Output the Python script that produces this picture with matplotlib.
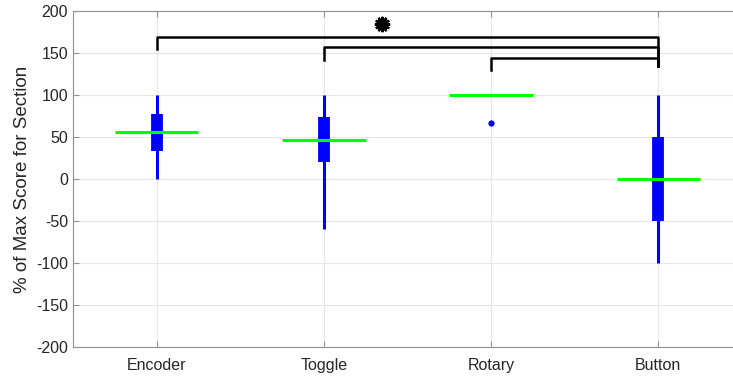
import numpy as np
import matplotlib
matplotlib.use('Agg')
import matplotlib.pyplot as plt

plt.rcParams['font.family'] = ['Liberation Sans', 'DejaVu Sans']
plt.rcParams['axes.unicode_minus'] = False

# Summary stats per control type (percent of max score)
controls = ['Encoder', 'Toggle', 'Rotary', 'Button']
medians = [55.6, 46.4, 100, 0]
q1 = [33.3, 20, 100, -50]
q3 = [77.8, 73.3, 100, 50]
whisk_lo = [0, -60, 100, -100]
whisk_hi = [100, 100, 100, 100]
outlier_x = [3]
outlier_y = [66.7]

# Significance brackets: (left group, right group, bar height, left leg end, right leg end)
brackets = [(1, 4, 169, 155, 135), (2, 4, 157, 142, 135), (3, 4, 144, 130, 135)]
star_pos = (2.35, 184)

fig = plt.figure(figsize=(7.33, 3.76), dpi=100)
ax = fig.add_axes([73 / 733, 29 / 376, 669 / 733, 336 / 376])

pos = np.arange(1, len(controls) + 1)

# Compact box plot: thin whisker line, thick box line, wide median bar
ax.vlines(pos, whisk_lo, whisk_hi, colors='blue', linewidth=2.2, zorder=3)
ax.vlines(pos, q1, q3, colors='blue', linewidth=8.5, zorder=3)
ax.hlines(medians, pos - 0.25, pos + 0.25, colors='#00ff00', linewidth=2.2, zorder=4)
ax.plot(outlier_x, outlier_y, 'o', color='blue', markersize=3.5, zorder=4)

for a, b, h, la, lb in brackets:
    ax.plot([a, a, b, b], [la, h, h, lb], color='black', linewidth=1.8, zorder=5)
ax.plot(*star_pos, marker=(12, 1, 0), color='black', markersize=11,
        markeredgewidth=1.5, zorder=5)

ax.set_xlim(0.5, 4.5)
ax.set_ylim(-200, 200)
ax.set_yticks(np.arange(-200, 201, 50))
ax.set_xticks(pos)
ax.set_xticklabels(controls)
ax.set_ylabel('% of Max Score for Section', fontsize=13.5, color='#262626', labelpad=4)

ax.grid(True, color='#e6e6e6', linewidth=0.8)
ax.set_axisbelow(True)
for s in ax.spines.values():
    s.set_color('#909090')
ax.tick_params(axis='both', direction='in', colors='#909090', labelcolor='#262626',
               labelsize=11.5, top=True, right=True, length=4)
ax.tick_params(axis='x', pad=8)

fig.savefig('out.png', dpi=100)
